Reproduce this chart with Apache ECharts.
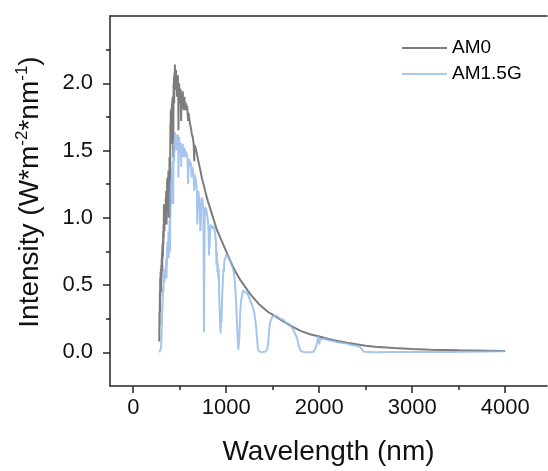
<!DOCTYPE html>
<html>
<head>
<meta charset="utf-8">
<script src="https://cdn.jsdelivr.net/npm/echarts@6/dist/echarts.min.js"></script>
<style>html,body{margin:0;padding:0;background:#fff}#c{width:548px;height:471px}</style>
</head>
<body>
<div id="c"></div>
<script>
// AM0 spectrum (wavelength nm, intensity W m^-2 nm^-1)
const am0Wl = [280,282,284,286,288,290,292,294,296,298,300,302,304,306,308,310,312,314,316,318,320,322,324,326,328,330,332,334,336,338,340,342,344,346,348,350,352,354,356,358,360,362,364,366,368,370,372,374,376,378,380,382,384,386,388,390,392,394,396,398,400,402,404,406,408,410,412,414,416,418,420,422,424,426,428,430,432,434,436,438,440,442,444,446,448,450,452,454,456,458,460,462,464,466,468,470,472,474,476,478,480,482,484,486,488,490,492,494,496,498,500,503,506,509,512,515,518,521,524,527,530,533,536,539,542,545,548,551,555,560,565,570,575,580,585,590,595,600,610,620,630,640,650,656,660,670,680,690,700,720,740,760,780,800,850,900,950,1000,1050,1100,1150,1200,1250,1300,1350,1400,1450,1500,1600,1700,1800,1900,2000,2100,2200,2300,2400,2500,2600,2800,3000,3200,3500,3800,4000];
const am0Val = [0.08,0.3,0.2,0.45,0.3,0.55,0.42,0.6,0.5,0.62,0.45,0.65,0.55,0.7,0.6,0.75,0.62,0.8,0.7,0.82,0.72,0.9,0.8,0.95,0.85,1.1,0.95,1.05,0.9,1.08,1.0,1.1,0.95,1.08,1.0,1.15,1.05,1.2,1.1,0.95,1.15,1.05,1.28,1.2,1.3,1.22,1.1,1.25,1.15,1.35,1.25,1.0,1.15,1.3,1.2,1.45,1.35,1.2,1.0,1.5,1.7,1.65,1.8,1.72,1.78,1.55,1.82,1.75,1.85,1.7,1.88,1.8,1.9,1.7,1.82,1.45,1.75,2.0,1.9,2.05,1.85,2.0,2.08,1.95,2.14,2.05,2.1,1.95,2.08,2.02,2.1,1.95,2.05,1.98,2.06,1.9,2.02,1.95,2.04,1.98,2.06,1.9,2.0,1.65,1.85,2.0,1.92,2.0,1.9,1.96,1.85,1.95,1.88,1.96,1.85,1.72,1.85,1.9,1.82,1.92,1.85,1.94,1.86,1.9,1.8,1.88,1.84,1.9,1.82,1.86,1.8,1.85,1.8,1.83,1.77,1.72,1.78,1.75,1.7,1.67,1.62,1.6,1.55,1.42,1.54,1.52,1.49,1.46,1.42,1.36,1.29,1.24,1.18,1.13,1.02,0.91,0.83,0.75,0.67,0.6,0.54,0.49,0.44,0.4,0.36,0.33,0.3,0.28,0.235,0.195,0.16,0.135,0.118,0.1,0.085,0.072,0.06,0.05,0.042,0.032,0.025,0.02,0.015,0.012,0.01];

// AM1.5G spectrum
const am15Wl = [280,290,294,298,300,302,304,306,308,310,312,314,316,318,320,322,324,326,328,330,332,334,336,338,340,342,344,346,348,350,352,354,356,358,360,362,364,366,368,370,372,374,376,378,380,382,384,386,388,390,392,394,396,398,400,402,404,406,408,410,412,414,416,418,420,422,424,426,428,430,432,434,436,438,440,442,444,446,448,450,452,454,456,458,460,462,464,466,468,470,472,474,476,478,480,482,484,486,488,490,492,494,496,498,500,503,506,509,512,515,518,521,524,527,530,533,536,539,542,545,548,551,555,560,565,570,575,580,585,588,590,593,596,600,605,610,615,620,625,628,632,640,645,650,656,660,665,670,675,680,685,688,692,696,700,705,710,715,718,722,726,730,735,740,745,750,755,758,761,764,767,770,775,780,785,790,795,800,805,810,815,818,822,826,830,840,850,860,870,880,890,895,900,905,910,915,920,925,930,935,940,945,950,955,960,965,970,975,980,990,1000,1010,1020,1030,1040,1050,1060,1070,1080,1090,1100,1110,1120,1130,1140,1150,1160,1170,1180,1190,1200,1220,1240,1260,1280,1300,1310,1320,1330,1340,1350,1360,1380,1400,1420,1440,1450,1460,1470,1480,1500,1520,1540,1560,1580,1600,1620,1640,1660,1680,1700,1720,1740,1760,1780,1800,1820,1850,1900,1940,1960,1980,1990,2000,2010,2030,2060,2100,2150,2200,2250,2300,2350,2400,2440,2460,2480,2500,2600,2800,3000,3200,3400,3600,3800,3950,4000];
const am15Val = [0,0,0.005,0.03,0.05,0.08,0.12,0.18,0.22,0.26,0.3,0.34,0.38,0.4,0.44,0.48,0.45,0.55,0.52,0.62,0.55,0.58,0.52,0.6,0.62,0.58,0.6,0.55,0.62,0.65,0.6,0.7,0.64,0.55,0.68,0.64,0.78,0.75,0.82,0.78,0.7,0.8,0.74,0.9,0.85,0.7,0.78,0.88,0.82,0.98,0.92,0.85,0.75,1.05,1.2,1.15,1.28,1.2,1.26,1.1,1.3,1.25,1.35,1.25,1.38,1.32,1.42,1.3,1.38,1.1,1.35,1.5,1.45,1.55,1.42,1.52,1.58,1.5,1.64,1.58,1.62,1.5,1.6,1.55,1.62,1.52,1.6,1.55,1.6,1.5,1.58,1.52,1.6,1.55,1.62,1.5,1.58,1.3,1.5,1.58,1.52,1.6,1.5,1.56,1.48,1.55,1.5,1.56,1.48,1.38,1.48,1.52,1.46,1.54,1.48,1.55,1.48,1.52,1.45,1.5,1.47,1.52,1.46,1.5,1.45,1.49,1.45,1.47,1.4,1.3,1.25,1.35,1.42,1.44,1.4,1.42,1.38,1.41,1.35,1.3,1.38,1.36,1.33,1.3,1.2,1.32,1.3,1.31,1.28,1.29,1.2,0.95,1.05,1.18,1.2,1.17,1.15,1.08,0.98,0.9,0.95,1.05,1.12,1.15,1.13,1.12,1.05,0.6,0.15,0.5,0.9,1.05,1.08,1.07,1.06,1.04,1.02,1.0,0.96,0.9,0.72,0.88,0.78,0.9,0.95,0.96,0.92,0.94,0.92,0.89,0.82,0.65,0.75,0.6,0.66,0.55,0.62,0.4,0.32,0.2,0.14,0.3,0.22,0.4,0.48,0.55,0.62,0.6,0.68,0.7,0.73,0.73,0.71,0.7,0.68,0.66,0.65,0.63,0.6,0.55,0.45,0.31,0.15,0.02,0.1,0.3,0.38,0.42,0.46,0.46,0.45,0.44,0.42,0.38,0.35,0.3,0.25,0.2,0.12,0.03,0.01,0,0,0,0.005,0.02,0.06,0.15,0.22,0.24,0.27,0.26,0.27,0.26,0.25,0.24,0.24,0.22,0.22,0.21,0.19,0.17,0.14,0.11,0.05,0.01,0,0,0,0.005,0.03,0.08,0.12,0.06,0.1,0.09,0.1,0.09,0.085,0.075,0.07,0.065,0.055,0.05,0.04,0.02,0.005,0.002,0,0.002,0.003,0.003,0.002,0.004,0.006,0.008,0.009];

const xMajorTicks = [0,1000,2000,3000,4000];
const xMinorTicks = [500,1500,2500,3500];
const yMajorTicks = [0,0.5,1,1.5,2];
const yMinorTicks = [0.25,0.75,1.25,1.75,2.25];

const seriesNames = ['AM0','AM1.5G'];

const FONT = '"Liberation Sans", Arial, sans-serif';
const AX = '#262626';
const xRange = {min:-250, max:4450};
const yRange = {min:-0.25, max:2.5};

const chart = echarts.init(document.getElementById('c'), null, {renderer:'canvas'});

const pairs = (xs, ys) => xs.map((x,i)=>[x, ys[i]]);

chart.setOption({
  animation:false,
  backgroundColor:'#fff',
  grid:{left:110, top:16, right:1, bottom:82, containLabel:false},
  legend:{
    orient:'vertical', left:397, top:33,
    icon:'rect', itemWidth:45, itemHeight:2, itemGap:6,
    textStyle:{fontFamily:FONT, fontSize:19, color:'#000', lineHeight:20},
    data:seriesNames
  },
  xAxis:[
    {type:'value', position:'bottom', min:xRange.min, max:xRange.max,
     axisLine:{show:true, onZero:false, lineStyle:{color:AX, width:1.5}},
     axisTick:{show:true, inside:false, length:7, customValues:xMajorTicks, lineStyle:{color:AX, width:1.5}},
     axisLabel:{show:true, customValues:xMajorTicks, margin:11, fontFamily:FONT, fontSize:22, color:'#111',
       formatter:v=>String(v)},
     splitLine:{show:false},
     name:'Wavelength (nm)', nameLocation:'middle', nameGap:52,
     nameTextStyle:{fontFamily:FONT, fontSize:28, color:'#111'}
    },
    {type:'value', position:'bottom', min:xRange.min, max:xRange.max,
     axisLine:{show:false, onZero:false},
     axisTick:{show:true, length:4, customValues:xMinorTicks, lineStyle:{color:AX, width:1.5}},
     axisLabel:{show:false}, splitLine:{show:false}
    },
    {type:'value', position:'top', min:xRange.min, max:xRange.max,
     axisLine:{show:true, onZero:false, lineStyle:{color:AX, width:1.5}},
     axisTick:{show:false}, axisLabel:{show:false}, splitLine:{show:false}
    }
  ],
  yAxis:[
    {type:'value', position:'left', min:yRange.min, max:yRange.max,
     axisLine:{show:true, onZero:false, lineStyle:{color:AX, width:1.5}},
     axisTick:{show:true, length:7, customValues:yMajorTicks, lineStyle:{color:AX, width:1.5}},
     axisLabel:{show:true, customValues:yMajorTicks, margin:17, fontFamily:FONT, fontSize:22, color:'#111',
       formatter:v=>v.toFixed(1)},
     splitLine:{show:false},
     name:'{m|Intensity (W*m}{s|-2}{m|*nm}{s|-1}{m|)}', nameLocation:'middle', nameGap:64, nameRotate:90,
     nameTextStyle:{padding:[0,0,0,18], rich:{
       m:{fontFamily:FONT, fontSize:28, color:'#111', lineHeight:32},
       s:{fontFamily:FONT, fontSize:17, color:'#111', lineHeight:20, verticalAlign:'top'}
     }}
    },
    {type:'value', position:'left', min:yRange.min, max:yRange.max,
     axisLine:{show:false, onZero:false},
     axisTick:{show:true, length:4, customValues:yMinorTicks, lineStyle:{color:AX, width:1.5}},
     axisLabel:{show:false}, splitLine:{show:false}
    }
  ],
  series:[
    {name:seriesNames[0], type:'line', xAxisIndex:0, yAxisIndex:0, data:pairs(am0Wl, am0Val),
     showSymbol:false, symbol:'none', lineStyle:{color:'#7c7c7c', width:2}, itemStyle:{color:'#7c7c7c'}, z:2},
    {name:seriesNames[1], type:'line', xAxisIndex:0, yAxisIndex:0, data:pairs(am15Wl, am15Val),
     showSymbol:false, symbol:'none', lineStyle:{color:'rgb(142,182,235)', width:2, opacity:0.8}, itemStyle:{color:'#aac8f0'}, z:3}
  ]
});
</script>
</body>
</html>
